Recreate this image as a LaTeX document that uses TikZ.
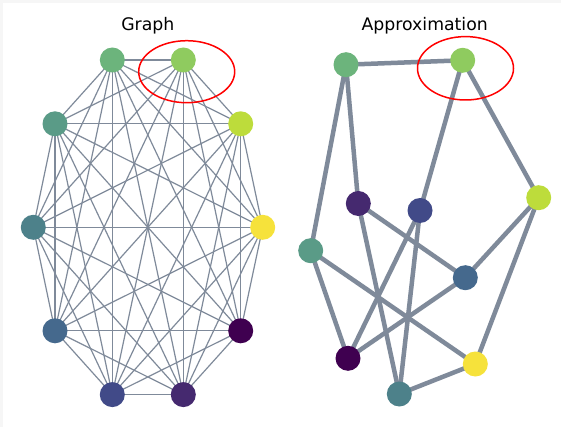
\documentclass[tikz,border=0pt]{standalone}
\usepackage{fontspec}
\setmainfont{DejaVu Sans}
\pgfdeclarelayer{paper}
\pgfdeclarelayer{edges}
\pgfsetlayers{paper,edges,main}
% node palette (viridis-like)
\definecolor{vA}{HTML}{6CB47C}
\definecolor{vB}{HTML}{8FCB5F}
\definecolor{vC}{HTML}{5A9B87}
\definecolor{vD}{HTML}{BDDC3B}
\definecolor{vE}{HTML}{4D818A}
\definecolor{vF}{HTML}{F6E23B}
\definecolor{vG}{HTML}{45698D}
\definecolor{vH}{HTML}{3F0050}
\definecolor{vI}{HTML}{414A88}
\definecolor{vJ}{HTML}{45296F}
\definecolor{edgegray}{HTML}{7F8A9A}
\definecolor{paperframe}{HTML}{F6F6F6}
\begin{document}
\begin{tikzpicture}[x=1pt,y=-1pt,
  vtx/.style={circle,inner sep=0pt,minimum size=25pt,fill=#1},
  thinedge/.style={draw=edgegray,line width=1.2pt},
  thickedge/.style={draw=edgegray,line width=4.5pt},
  hilite/.style={draw=red,line width=1.5pt},
  title/.style={anchor=base,inner sep=0pt,font=\fontsize{17.3}{20}\selectfont}]

% canvas
\begin{pgfonlayer}{paper}
  \fill[paperframe] (0,0) rectangle (561,427);
  \fill[white] (3,3) rectangle (561,427);
\end{pgfonlayer}
\useasboundingbox (0,0) rectangle (561,427);

% titles
\node[title] (t1) at (147.8,31) {Graph};
\node[title] (t2) at (424.7,31) {Approximation};

% complete graph on ten vertices
\foreach \n/\x/\y/\c in {1/112.3/60/vA, 2/183.3/60/vB, 3/55/123.8/vC, 4/240.7/123.8/vD,
    5/33.3/227.3/vE, 6/262.7/227.3/vF, 7/55/330.8/vG, 8/240.7/330.8/vH,
    9/112.3/394.6/vI, 10/183.3/394.6/vJ}
  \node[vtx=\c] (L\n) at (\x,\y) {};

\begin{pgfonlayer}{edges}
  \foreach \i in {1,...,9}{
    \pgfmathtruncatemacro\k{\i+1}
    \foreach \j in {\k,...,10}
      \draw[thinedge] (L\i.center) -- (L\j.center);
  }
\end{pgfonlayer}

% sparse approximation
\foreach \n/\x/\y/\c in {A/346/64.7/vA, B/462.7/60.3/vB, K/358.3/203.5/vJ, L/420/210.5/vI,
    D/538.7/197.7/vD, C/310.7/250.7/vC, G/465.3/277.7/vG, H/348/358.3/vH,
    F/475.3/364/vF, E/399.3/394/vE}
  \node[vtx=\c] (R\n) at (\x,\y) {};

\begin{pgfonlayer}{edges}
  \foreach \a/\b in {A/B, A/C, A/K, B/L, B/D, K/G, K/E, L/H, L/E, D/G, D/F,
      C/H, C/F, G/H, E/F}
    \draw[thickedge] (R\a.center) -- (R\b.center);
\end{pgfonlayer}

% highlighted vertex
\draw[hilite] (186.7,71.7) ellipse [x radius=48, y radius=31];
\draw[hilite] (465.5,68.3) ellipse [x radius=48, y radius=31.7];
\end{tikzpicture}
\end{document}
